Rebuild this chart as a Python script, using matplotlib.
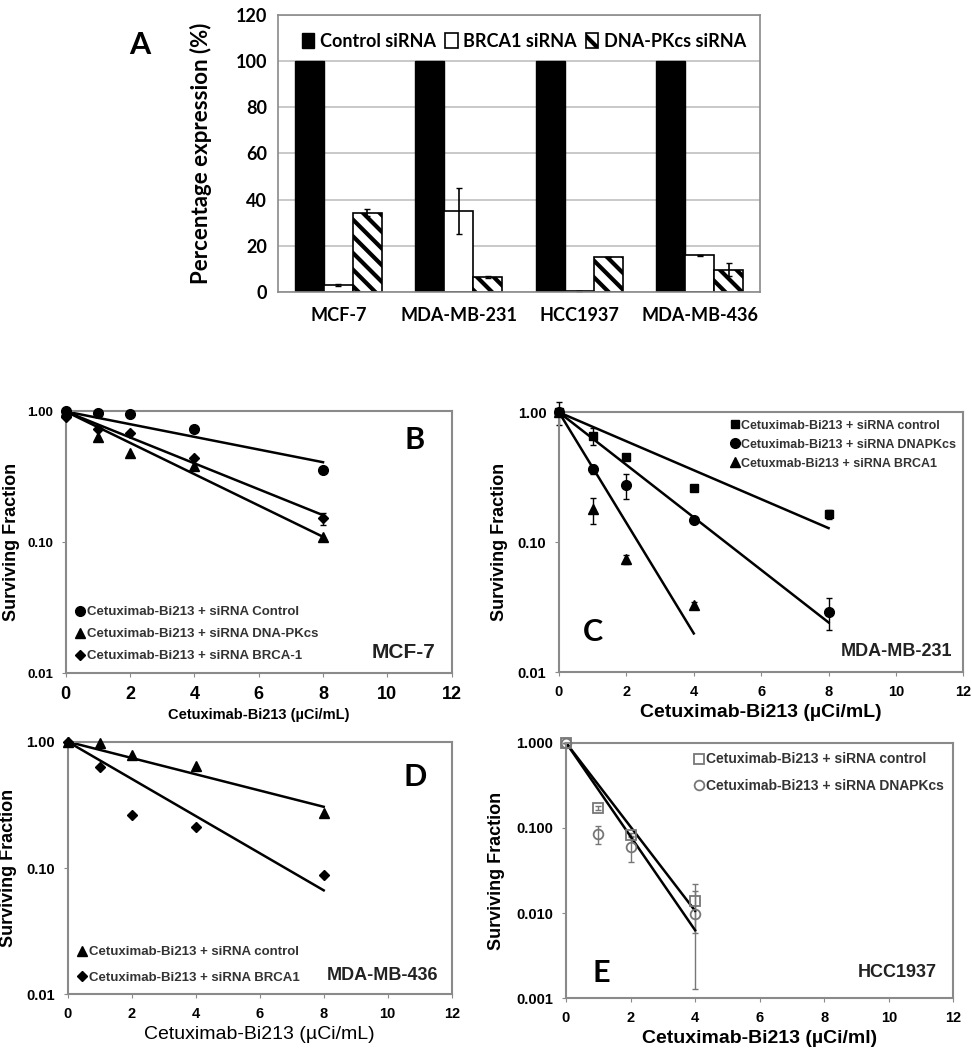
import numpy as np
import matplotlib
matplotlib.use("Agg")
import matplotlib.pyplot as plt
from matplotlib.ticker import FixedLocator, FormatStrFormatter, NullLocator

plt.rcParams['hatch.linewidth'] = 3.0

# Panel A - expression after siRNA
cell_lines = ["MCF-7", "MDA-MB-231", "HCC1937", "MDA-MB-436"]
control_sirna = [100, 100, 100, 100]
brca1_sirna = [3.0, 35.0, 0.3, 15.8]
brca1_err = [0.5, 10.0, 0.0, 0.3]
dnapk_sirna = [34.3, 6.5, 15.2, 9.7]
dnapk_err = [1.6, 0.6, 0.0, 3.0]

# Panel B - MCF-7
dose_b = [0, 1, 2, 4, 8]
b_control = [1.0, 0.97, 0.96, 0.74, 0.36]
b_dnapk = [1.0, 0.64, 0.48, 0.38, 0.11]
b_brca1 = [0.9, 0.74, 0.69, 0.44, 0.152]
b_brca1_err = [0, 0, 0, 0, 0.016]

# Panel C - MDA-MB-231
dose_c = [0, 1, 2, 4, 8]
c_control = [1.0, 0.66, 0.456, 0.263, 0.164]
c_control_err = [0.2, 0.1, 0, 0, 0.012]
c_dnapk = [1.0, 0.366, 0.276, 0.148, 0.029]
c_dnapk_err = [0, 0.03, 0.06, 0.005, 0.008]
dose_c2 = [0, 1, 2, 4]
c_brca1 = [1.0, 0.179, 0.0744, 0.033]
c_brca1_err = [0, 0.04, 0.006, 0.002]

# Panel D - MDA-MB-436
dose_d = [0, 1, 2, 4, 8]
d_control = [1.0, 0.98, 0.79, 0.645, 0.274]
d_brca1 = [1.0, 0.627, 0.263, 0.212, 0.088]

# Panel E - HCC1937
dose_e = [0, 1, 2, 4]
e_control = [1.0, 0.17, 0.083, 0.0139]
e_control_err = [0, 0.01, 0.005, 0.008]
e_dnapk = [1.0, 0.084, 0.06, 0.0098]
e_dnapk_err = [0, 0.02, 0.02, 0.0085]

AR = "Liberation Sans"
CAL = "Lato"
SPINE = "#8a8a8a"


def fit_line(x, y):
    # exponential fit through (0, 1)
    x = np.asarray(x, float)
    y = np.asarray(y, float)
    m = x > 0
    k = np.sum(x[m] * np.log(y[m])) / np.sum(x[m] ** 2)
    xx = np.linspace(0, x.max(), 50)
    return xx, np.exp(k * xx)


def style_survival(ax, ymin, fmt, ysize, xsize):
    ax.set_yscale("log")
    ax.set_ylim(ymin, 1.0)
    ax.set_xlim(0, 12)
    decades = [10.0 ** -i for i in range(0, int(round(-np.log10(ymin))) + 1)]
    ax.yaxis.set_major_locator(FixedLocator(decades))
    ax.yaxis.set_major_formatter(FormatStrFormatter(fmt))
    ax.yaxis.set_minor_locator(NullLocator())
    ax.set_xticks(range(0, 13, 2))
    for s in ax.spines.values():
        s.set_color(SPINE)
        s.set_linewidth(1.5)
    ax.tick_params(length=3, color=SPINE, pad=6)
    for t in ax.get_yticklabels():
        t.set_fontfamily(AR); t.set_fontweight("bold"); t.set_fontsize(ysize)
    for t in ax.get_xticklabels():
        t.set_fontfamily(AR); t.set_fontweight("bold"); t.set_fontsize(xsize)


def points(ax, x, y, err, label, **kw):
    # error bars without legend entry, markers with legend entry
    ax.errorbar(x, y, yerr=err, ls="none", color=kw.get("color", "black"), capsize=2, lw=1,
                clip_on=False, zorder=2)
    ax.plot(x, y, ls="none", clip_on=False, zorder=3, label=label, **kw)


fig = plt.figure(figsize=(9.72, 10.5), dpi=100)

# ---------------- Panel A ----------------
axA = fig.add_axes([0.286, 0.722, 0.496, 0.2637])
x = np.arange(len(cell_lines))
w = 0.24
axA.set_axisbelow(True)
axA.yaxis.grid(True, color="#c0c0c0", lw=1.2)
axA.bar(x - w, control_sirna, w, color="black", edgecolor="black", label="Control siRNA")
axA.bar(x, brca1_sirna, w, color="white", edgecolor="black", lw=1.2, label="BRCA1 siRNA",
        yerr=brca1_err, error_kw=dict(ecolor="black", lw=1.2, capsize=2))
axA.bar(x + w, dnapk_sirna, w, color="white", edgecolor="black", lw=1.2, hatch="\\\\",
        label="DNA-PKcs siRNA", yerr=dnapk_err, error_kw=dict(ecolor="black", lw=1.2, capsize=2))
axA.set_ylim(0, 120)
axA.set_xlim(-0.5, 3.5)
axA.set_yticks(range(0, 121, 20))
axA.set_xticks(x)
axA.set_xticklabels(cell_lines, fontfamily=CAL, fontweight="bold", fontsize=13)
for t in axA.get_yticklabels():
    t.set_fontfamily(CAL); t.set_fontweight("bold"); t.set_fontsize(13)
axA.tick_params(length=0, pad=8)
axA.tick_params(axis="x", pad=11)
for s in axA.spines.values():
    s.set_color(SPINE)
    s.set_linewidth(1.2)
axA.set_ylabel("Percentage expression (%)", fontfamily=CAL, fontweight="bold", fontsize=16)
axA.yaxis.set_label_coords(-0.137, 0.5)
axA.legend(loc="upper center", bbox_to_anchor=(0.51, 0.98), ncol=3, frameon=False,
           prop=dict(family=CAL, weight="bold", size=13), handlelength=0.7, handleheight=0.9,
           handletextpad=0.3, columnspacing=0.5, borderaxespad=0.3)
fig.text(140 / 972, 1 - 45 / 1050, "A", fontfamily=CAL, fontweight="bold", fontsize=22,
         ha="center", va="center")

# ---------------- Panel B ----------------
axB = fig.add_axes([0.0676, 0.359, 0.3971, 0.2491])
points(axB, dose_b, b_control, None, "Cetuximab-Bi213 + siRNA Control",
       marker="o", ms=7, color="black")
points(axB, dose_b, b_dnapk, None, "Cetuximab-Bi213 + siRNA DNA-PKcs",
       marker="^", ms=7, color="black")
points(axB, dose_b, b_brca1, b_brca1_err, "Cetuximab-Bi213 + siRNA BRCA-1",
       marker="D", ms=5.5, color="black")
for d, v in [(dose_b, b_control), (dose_b, b_dnapk), (dose_b, b_brca1)]:
    xx, yy = fit_line(d, v)
    axB.plot(xx, yy, color="black", lw=1.8)
style_survival(axB, 0.01, "%.2f", 9.5, 13)
axB.set_ylabel("Surviving Fraction", fontfamily=AR, fontweight="bold", fontsize=13)
axB.yaxis.set_label_coords(-0.118, 0.5)
axB.set_xlabel("Cetuximab-Bi213 (µCi/mL)", fontfamily=AR, fontweight="bold", fontsize=10.5,
               labelpad=4)
axB.legend(loc="lower left", bbox_to_anchor=(0.0, 0.0), frameon=False,
           prop=dict(family=AR, weight="bold", size=9.5), handlelength=0.6,
           handletextpad=0.2, labelspacing=0.75, borderaxespad=0.4, labelcolor="#333333")
axB.text(0.905, 0.89, "B", transform=axB.transAxes, fontfamily=CAL, fontweight="bold",
         fontsize=22, ha="center", va="center")
axB.text(0.875, 0.08, "MCF-7", transform=axB.transAxes, fontfamily=AR, fontweight="bold",
         fontsize=15, ha="center", va="center", color="#222222")

# ---------------- Panel C ----------------
axC = fig.add_axes([0.5751, 0.3597, 0.4160, 0.2476])
points(axC, dose_c, c_control, c_control_err, "Cetuximab-Bi213 + siRNA control",
       marker="s", ms=6, color="black")
points(axC, dose_c, c_dnapk, c_dnapk_err, "Cetuximab-Bi213 + siRNA DNAPKcs",
       marker="o", ms=7, color="black")
points(axC, dose_c2, c_brca1, c_brca1_err, "Cetuxmab-Bi213 + siRNA BRCA1",
       marker="^", ms=6.5, color="black")
for d, v in [(dose_c, c_control), (dose_c, c_dnapk), (dose_c2, c_brca1)]:
    xx, yy = fit_line(d, v)
    axC.plot(xx, yy, color="black", lw=1.8)
style_survival(axC, 0.01, "%.2f", 10.5, 10.5)
axC.set_ylabel("Surviving Fraction", fontfamily=AR, fontweight="bold", fontsize=13)
axC.yaxis.set_label_coords(-0.126, 0.5)
axC.set_xlabel("Cetuximab-Bi213 (µCi/mL)", fontfamily=AR, fontweight="bold", fontsize=14,
               labelpad=4)
axC.legend(loc="upper right", bbox_to_anchor=(1.0, 1.0), frameon=False,
           prop=dict(family=AR, weight="bold", size=9), handlelength=0.6,
           handletextpad=0.2, labelspacing=0.55, borderaxespad=0.2, labelcolor="#333333")
axC.text(0.085, 0.155, "C", transform=axC.transAxes, fontfamily=CAL, fontweight="bold",
         fontsize=22, ha="center", va="center")
axC.text(0.835, 0.08, "MDA-MB-231", transform=axC.transAxes, fontfamily=AR, fontweight="bold",
         fontsize=13, ha="center", va="center", color="#222222")

# ---------------- Panel D ----------------
axD = fig.add_axes([0.0697, 0.0530, 0.3950, 0.2406])
points(axD, dose_d, d_control, None, "Cetuximab-Bi213 + siRNA control",
       marker="^", ms=7, color="black")
points(axD, dose_d, d_brca1, None, "Cetuximab-Bi213 + siRNA BRCA1",
       marker="D", ms=5.5, color="black")
for d, v in [(dose_d, d_control), (dose_d, d_brca1)]:
    xx, yy = fit_line(d, v)
    axD.plot(xx, yy, color="black", lw=1.8)
style_survival(axD, 0.01, "%.2f", 10.5, 10.5)
axD.set_ylabel("Surviving Fraction", fontfamily=AR, fontweight="bold", fontsize=13)
axD.yaxis.set_label_coords(-0.132, 0.5)
axD.set_xlabel("Cetuximab-Bi213 (µCi/mL)", fontfamily=AR, fontsize=14, labelpad=4)
axD.legend(loc="lower left", bbox_to_anchor=(0.0, 0.0), frameon=False,
           prop=dict(family=AR, weight="bold", size=9.5), handlelength=0.6,
           handletextpad=0.2, labelspacing=1.0, borderaxespad=0.4, labelcolor="#333333")
axD.text(0.905, 0.86, "D", transform=axD.transAxes, fontfamily=CAL, fontweight="bold",
         fontsize=22, ha="center", va="center")
axD.text(0.82, 0.075, "MDA-MB-436", transform=axD.transAxes, fontfamily=AR, fontweight="bold",
         fontsize=13, ha="center", va="center", color="#222222")

# ---------------- Panel E ----------------
axE = fig.add_axes([0.5823, 0.0492, 0.3985, 0.2435])
points(axE, dose_e, e_control, e_control_err, "Cetuximab-Bi213 + siRNA control",
       marker="s", ms=7, color="#777777", mfc="none", mew=1.3)
points(axE, dose_e, e_dnapk, e_dnapk_err, "Cetuximab-Bi213 + siRNA DNAPKcs",
       marker="o", ms=7, color="#777777", mfc="none", mew=1.3)
for d, v in [(dose_e, e_control), (dose_e, e_dnapk)]:
    xx, yy = fit_line(d, v)
    axE.plot(xx, yy, color="black", lw=1.8)
style_survival(axE, 0.001, "%.3f", 10.5, 10.5)
axE.set_ylabel("Surviving Fraction", fontfamily=AR, fontweight="bold", fontsize=13)
axE.yaxis.set_label_coords(-0.158, 0.5)
axE.set_xlabel("Cetuximab-Bi213 (µCi/ml)", fontfamily=AR, fontweight="bold", fontsize=14,
               labelpad=4)
axE.legend(loc="upper right", bbox_to_anchor=(1.0, 1.0), frameon=False,
           prop=dict(family=AR, weight="bold", size=10), handlelength=0.6,
           handletextpad=0.2, labelspacing=0.9, borderaxespad=0.3, labelcolor="#333333")
axE.text(0.09, 0.1, "E", transform=axE.transAxes, fontfamily=CAL, fontweight="bold",
         fontsize=22, ha="center", va="center")
axE.text(0.855, 0.1, "HCC1937", transform=axE.transAxes, fontfamily=AR, fontweight="bold",
         fontsize=13, ha="center", va="center", color="#222222")

fig.savefig("out.png", dpi=100, facecolor="white")
